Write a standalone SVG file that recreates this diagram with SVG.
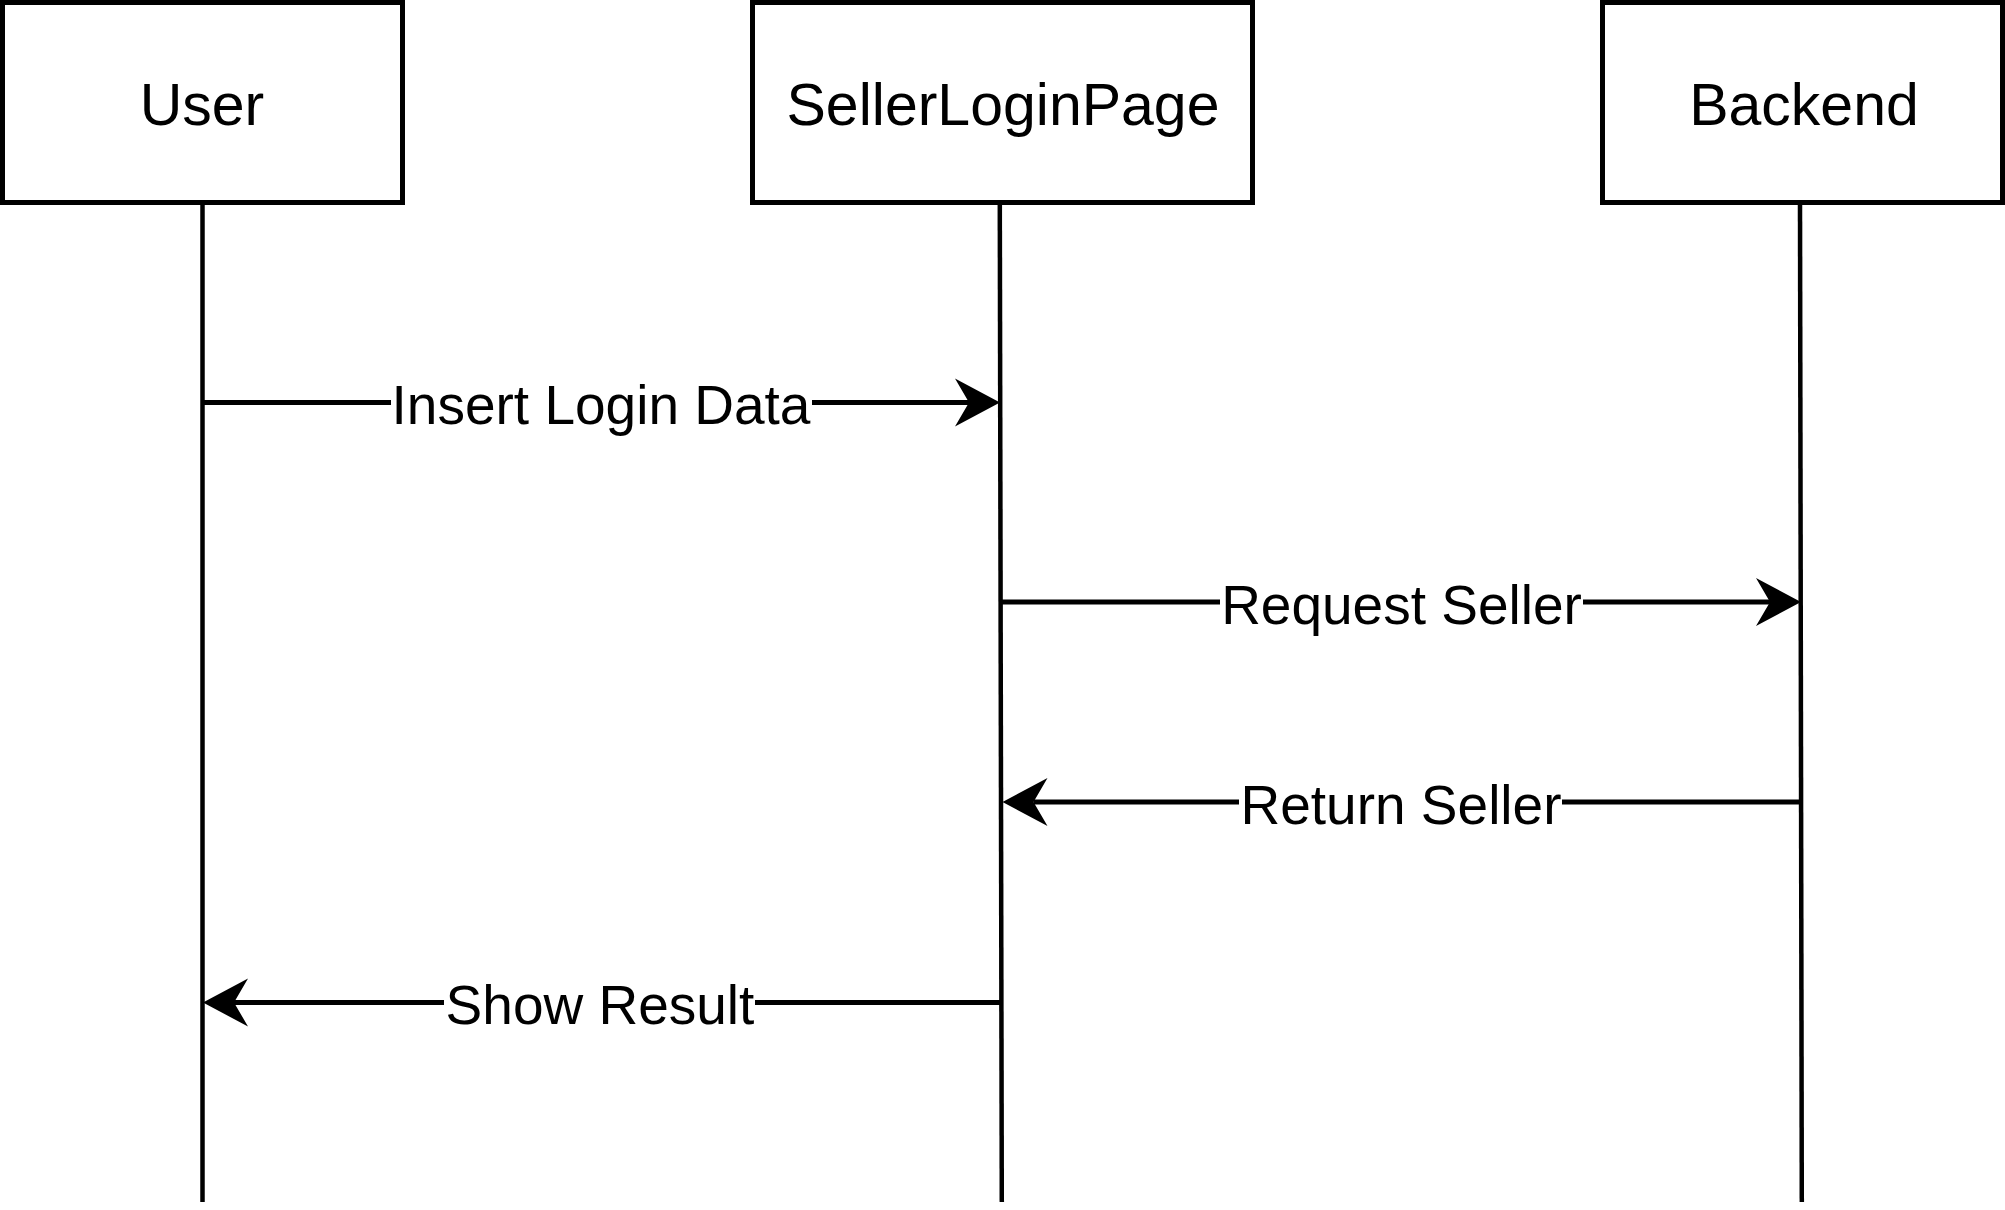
<svg xmlns="http://www.w3.org/2000/svg" width="2005" height="1210" viewBox="0 0 2005 1210">
  <style>
    .box { fill: #ffffff; stroke: #000000; stroke-width: 5; }
    .lifeline { fill: none; stroke: #000000; stroke-width: 4.5; }
    .msg { fill: none; stroke: #000000; stroke-width: 5; marker-end: url(#arrow); }
    .node-label { font-family: "Liberation Sans", Arial, Helvetica, sans-serif; font-size: 59px; fill: #000000; text-anchor: middle; }
    .edge-label { font-family: "Liberation Sans", Arial, Helvetica, sans-serif; font-size: 55px; fill: #000000; text-anchor: middle; }
    .label-bg { fill: #ffffff; stroke: none; }
  </style>
  <defs>
    <marker id="arrow" viewBox="-16 -26 50 52" markerWidth="50" markerHeight="52" refX="0" refY="0" orient="auto" markerUnits="userSpaceOnUse">
      <path d="M31,0 L-14,-24 L0,0 L-14,24 Z" fill="#000000"/>
    </marker>
  </defs>
  <rect x="0" y="0" width="2005" height="1210" fill="#ffffff"/>

  <g id="user">
    <rect class="box" x="2.5" y="2.5" width="400" height="200"/>
    <line class="lifeline" x1="202.5" y1="204" x2="202.5" y2="1202"/>
    <text class="node-label" x="202" y="125">User</text>
  </g>

  <g id="sellerloginpage">
    <rect class="box" x="752.5" y="2.5" width="500" height="200"/>
    <line class="lifeline" x1="999.8" y1="204" x2="1001.8" y2="1202"/>
    <text class="node-label" x="1003" y="125">SellerLoginPage</text>
  </g>

  <g id="backend">
    <rect class="box" x="1602.5" y="2.5" width="400" height="200"/>
    <line class="lifeline" x1="1800" y1="204" x2="1801.8" y2="1202"/>
    <text class="node-label" x="1804" y="125">Backend</text>
  </g>

  <g id="connectors">
    <g id="msg-insert-login-data">
      <line class="msg" x1="202.5" y1="402.5" x2="969" y2="402.5"/>
      <rect class="label-bg" x="391" y="375" width="421" height="58"/>
      <text class="edge-label" x="601" y="424">Insert Login Data</text>
    </g>
    <g id="msg-request-seller">
      <line class="msg" x1="1000.5" y1="602" x2="1770" y2="602"/>
      <rect class="label-bg" x="1220" y="575" width="363" height="58"/>
      <text class="edge-label" x="1401.5" y="623.5">Request Seller</text>
    </g>
    <g id="msg-return-seller">
      <line class="msg" x1="1801" y1="802" x2="1033.5" y2="802"/>
      <rect class="label-bg" x="1239" y="775" width="323" height="58"/>
      <text class="edge-label" x="1401" y="823.5">Return Seller</text>
    </g>
    <g id="msg-show-result">
      <line class="msg" x1="1001.5" y1="1002.5" x2="234" y2="1002.5"/>
      <rect class="label-bg" x="444" y="975" width="311" height="58"/>
      <text class="edge-label" x="600" y="1024">Show Result</text>
    </g>
  </g>
</svg>
